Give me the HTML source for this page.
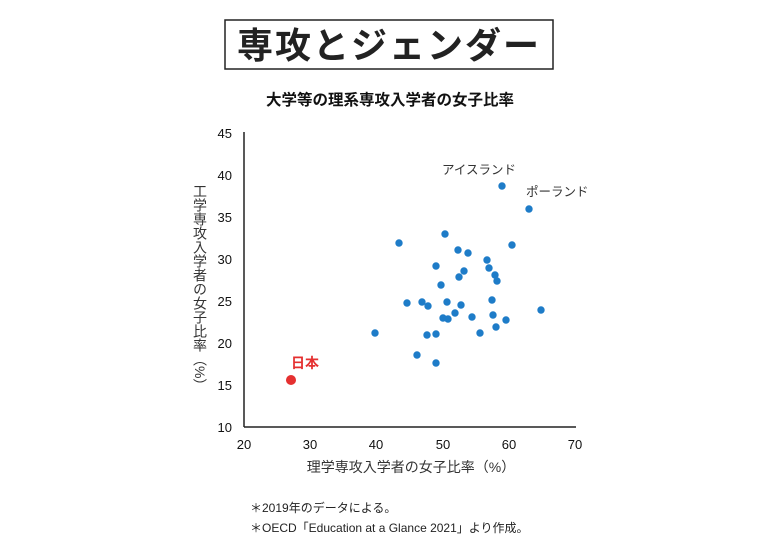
<!DOCTYPE html>
<html><head><meta charset="utf-8"><style>
html,body{margin:0;padding:0;background:#fff;}
body{width:780px;height:540px;overflow:hidden;}
svg text{font-family:"Liberation Sans","Noto Sans CJK JP",sans-serif;}
</style></head><body>
<svg width="780" height="540" viewBox="0 0 780 540" xmlns="http://www.w3.org/2000/svg">
<rect x="225" y="20" width="328" height="49" fill="#fff" stroke="#222" stroke-width="1.5"/>
<text x="389" y="58" text-anchor="middle" font-size="36" font-weight="bold" fill="#222" letter-spacing="2">専攻とジェンダー</text>
<text x="390" y="105" text-anchor="middle" font-size="15.5" font-weight="bold" fill="#111">大学等の理系専攻入学者の女子比率</text>
<g stroke="#222" stroke-width="1.5" fill="none">
<line x1="244" y1="132" x2="244" y2="427"/>
<line x1="244" y1="427" x2="576" y2="427"/>
</g>
<g font-size="13" fill="#111" text-anchor="end">
<text x="232" y="138">45</text><text x="232" y="180">40</text><text x="232" y="222">35</text>
<text x="232" y="264">30</text><text x="232" y="306">25</text><text x="232" y="348">20</text>
<text x="232" y="390">15</text><text x="232" y="432">10</text>
</g>
<g font-size="13" fill="#111" text-anchor="middle">
<text x="244" y="449">20</text><text x="310" y="449">30</text><text x="376" y="449">40</text>
<text x="443" y="449">50</text><text x="509" y="449">60</text><text x="575" y="449">70</text>
</g>
<text font-size="14" fill="#333" writing-mode="tb" x="200" y="184">工学専攻入学者の女子比率︵%︶</text>
<text x="411" y="472" text-anchor="middle" font-size="14" fill="#333">理学専攻入学者の女子比率（%）</text>
<text x="442" y="174" font-size="12.5" fill="#333">アイスランド</text>
<text x="526" y="196" font-size="12.5" fill="#333">ポーランド</text>
<text x="291" y="368" font-size="14" font-weight="bold" fill="#e53030">日本</text>
<circle cx="291" cy="380" r="5" fill="#e53030"/>
<g fill="#1e7cc8">
<circle cx="502" cy="186" r="3.7"/><circle cx="529" cy="209" r="3.7"/><circle cx="399" cy="243" r="3.7"/>
<circle cx="445" cy="234" r="3.7"/><circle cx="512" cy="245" r="3.7"/><circle cx="458" cy="250" r="3.7"/>
<circle cx="468" cy="253" r="3.7"/><circle cx="436" cy="266" r="3.7"/><circle cx="487" cy="260" r="3.7"/>
<circle cx="489" cy="268" r="3.7"/><circle cx="464" cy="271" r="3.7"/><circle cx="495" cy="275" r="3.7"/>
<circle cx="459" cy="277" r="3.7"/><circle cx="497" cy="281" r="3.7"/><circle cx="441" cy="285" r="3.7"/>
<circle cx="407" cy="303" r="3.7"/><circle cx="422" cy="302" r="3.7"/><circle cx="428" cy="306" r="3.7"/>
<circle cx="447" cy="302" r="3.7"/><circle cx="461" cy="305" r="3.7"/><circle cx="492" cy="300" r="3.7"/>
<circle cx="541" cy="310" r="3.7"/><circle cx="455" cy="313" r="3.7"/><circle cx="443" cy="318" r="3.7"/>
<circle cx="448" cy="319" r="3.7"/><circle cx="472" cy="317" r="3.7"/><circle cx="493" cy="315" r="3.7"/>
<circle cx="506" cy="320" r="3.7"/><circle cx="496" cy="327" r="3.7"/><circle cx="375" cy="333" r="3.7"/>
<circle cx="427" cy="335" r="3.7"/><circle cx="436" cy="334" r="3.7"/><circle cx="480" cy="333" r="3.7"/>
<circle cx="417" cy="355" r="3.7"/><circle cx="436" cy="363" r="3.7"/>
</g>
<text x="250" y="512" font-size="12" fill="#222">＊2019年のデータによる。</text>
<text x="250" y="532" font-size="12" fill="#222">＊OECD「Education at a Glance 2021」より作成。</text>
</svg>
</body></html>
